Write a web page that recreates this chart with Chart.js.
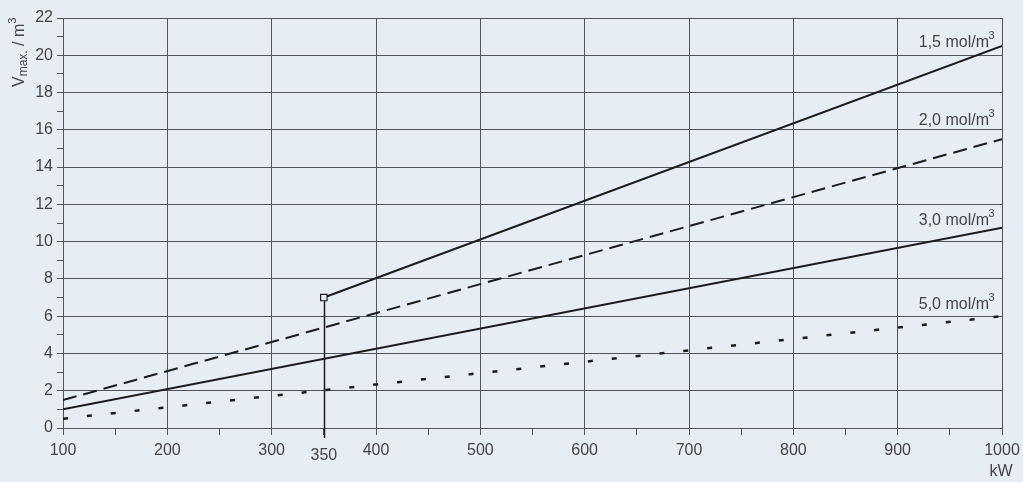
<!DOCTYPE html>
<html>
<head>
<meta charset="utf-8">
<script src="https://cdn.jsdelivr.net/npm/chart.js@4/dist/chart.umd.min.js"></script>
<style>
  html, body { margin: 0; padding: 0; background: #e7edf5; }
</style>
</head>
<body>
<canvas id="chart" width="1023" height="482"></canvas>
<script>
// Values (straight lines, so end points only).
const kw15 = [350, 1000];
const vol15 = [7.0, 20.5];
const kw20 = [100, 1000];
const vol20 = [1.5, 15.5];
const kw30 = [100, 1000];
const vol30 = [1.0, 10.75];
const kw50 = [100, 1000];
const vol50 = [0.5, 6.0];

const seriesNames = ["1,5 mol/m", "2,0 mol/m", "3,0 mol/m", "5,0 mol/m"];
const markerKw = 350;
const markerVol = 7.0;

const ink = "#1c1c1c";
const gridCol = "#51565e";
const textCol = "#444";
const bg = "#e7edf5";
const font = "Liberation Sans, Arial, sans-serif";

const pts = (xs, ys) => xs.map((x, i) => ({ x: x, y: ys[i] }));

// Draws the axis title, curve labels, the 350 marker line and the unit label.
const extras = {
  id: "extras",
  beforeDatasetsDraw(chart) {
    const { ctx, scales: { x, y } } = chart;
    const px = Math.round(x.getPixelForValue(markerKw)) + 0.5;
    ctx.save();
    ctx.strokeStyle = ink;
    ctx.lineWidth = 1.5;
    ctx.beginPath();
    ctx.moveTo(px, y.getPixelForValue(0) + 10);
    ctx.lineTo(px, y.getPixelForValue(markerVol));
    ctx.stroke();
    ctx.restore();
  },
  afterDraw(chart) {
    const { ctx, scales: { x } } = chart;
    ctx.save();
    ctx.fillStyle = textCol;

    // curve labels with raised 3
    const baselines = [47, 125, 225, 309];
    seriesNames.forEach((name, i) => {
      ctx.font = "16px " + font;
      ctx.textAlign = "right";
      ctx.textBaseline = "alphabetic";
      ctx.fillText(name, 989, baselines[i]);
      ctx.font = "11px " + font;
      ctx.textAlign = "left";
      ctx.fillText("3", 988.5, baselines[i] - 8);
    });

    // extra 350 tick label, set lower than the others
    ctx.font = "16px " + font;
    ctx.textAlign = "center";
    ctx.textBaseline = "middle";
    ctx.fillText(String(markerKw), x.getPixelForValue(markerKw), 456);

    // unit
    ctx.fillText("kW", 1001, 472);

    // y title, rotated
    ctx.translate(24, 87);
    ctx.rotate(-Math.PI / 2);
    ctx.textAlign = "left";
    ctx.textBaseline = "alphabetic";
    let cx = 0;
    ctx.font = "16px " + font;
    ctx.fillText("V", cx, 0);
    cx += ctx.measureText("V").width;
    ctx.font = "12px " + font;
    ctx.fillText("max.", cx, 3);
    cx += ctx.measureText("max.").width;
    ctx.font = "16px " + font;
    ctx.fillText(" / m", cx, 0);
    cx += ctx.measureText(" / m").width;
    ctx.font = "11px " + font;
    ctx.fillText("3", cx, -8);
    ctx.restore();
  }
};

new Chart(document.getElementById("chart"), {
  type: "line",
  data: {
    datasets: [
      {
        data: pts(kw15, vol15),
        borderColor: ink,
        borderWidth: 2,
        pointRadius: (c) => (c.dataIndex === 0 ? 4.5 : 0),
        pointStyle: "rect",
        pointBackgroundColor: bg,
        pointBorderColor: ink,
        pointBorderWidth: 1.2
      },
      {
        data: pts(kw20, vol20),
        borderColor: ink,
        borderWidth: 2,
        borderDash: [14, 7],
        pointRadius: 0
      },
      {
        data: pts(kw30, vol30),
        borderColor: ink,
        borderWidth: 2,
        pointRadius: 0
      },
      {
        data: pts(kw50, vol50),
        borderColor: ink,
        borderWidth: 2.5,
        borderDash: [5, 19],
        pointRadius: 0
      }
    ]
  },
  options: {
    responsive: false,
    animation: false,
    layout: { padding: { top: 18, right: 21, left: 0, bottom: 0 } },
    plugins: { legend: { display: false }, tooltip: { enabled: false } },
    scales: {
      x: {
        type: "linear",
        min: 100,
        max: 1000,
        afterFit: (s) => { s.height = 54; s.paddingRight = 0; s.paddingLeft = 0; },
        border: { color: gridCol, width: 1 },
        grid: {
          color: (c) => (c.tick && c.tick.value % 100 === 0 ? gridCol : "rgba(0,0,0,0)"),
          tickColor: gridCol,
          tickLength: 7,
          lineWidth: 1
        },
        ticks: {
          stepSize: 50,
          autoSkip: false,
          maxRotation: 0,
          padding: 6,
          color: textCol,
          font: { family: font, size: 16 },
          callback: (v) => (v % 100 === 0 ? v : "")
        }
      },
      y: {
        min: 0,
        max: 22,
        afterFit: (s) => { s.width = 63; s.paddingTop = 0; s.paddingBottom = 0; },
        border: { color: gridCol, width: 1 },
        grid: {
          color: (c) => (c.tick && c.tick.value % 2 === 0 ? gridCol : "rgba(0,0,0,0)"),
          tickColor: gridCol,
          tickLength: 6,
          lineWidth: 1
        },
        ticks: {
          stepSize: 1,
          autoSkip: false,
          padding: 4,
          color: textCol,
          font: { family: font, size: 16 },
          callback: (v) => (v % 2 === 0 ? v : "")
        }
      }
    }
  },
  plugins: [extras]
});
</script>
</body>
</html>
